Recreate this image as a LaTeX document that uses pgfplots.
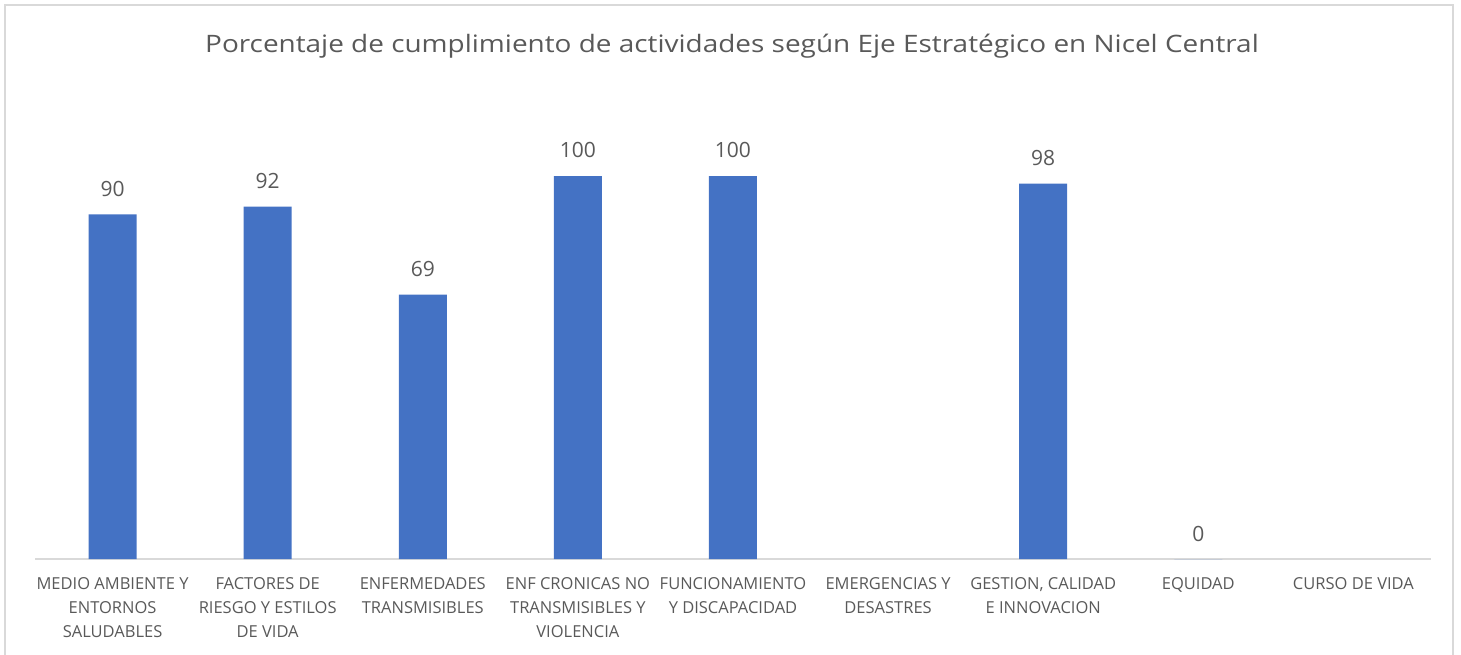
\documentclass[border=0pt]{standalone}
\usepackage{pgfplots}
\pgfplotsset{compat=1.18}
\usepackage{fontspec}
\setmainfont{Open Sans}
\definecolor{barblue}{HTML}{4472C4}
\definecolor{txt}{HTML}{595959}
\definecolor{gridc}{HTML}{D9D9D9}
\begin{document}
\begin{tikzpicture}[x=1pt,y=1pt]
\path[use as bounding box] (0,0) rectangle (1461,654);
\draw[gridc, line width=1.5pt] (5,-20) -- (5,649) -- (1453,649) -- (1453,-20);
\node[anchor=base, text=txt, font=\fontsize{24}{28}\selectfont, inner sep=0pt] at (732,601) {\scalebox{1.164}[1]{Porcentaje de cumplimiento de actividades según Eje Estratégico en Nicel Central}};
\begin{axis}[
  at={(35pt,95pt)}, anchor=south west,
  scale only axis, width=1396pt, height=459.6pt,
  xmin=-0.5, xmax=8.5, ymin=0, ymax=120,
  axis x line=bottom, axis y line=none,
  axis line style={-, draw=gridc, line width=1.5pt},
  ytick=\empty,
  xtick={0,...,8},
  xticklabels={{MEDIO AMBIENTE Y\\ENTORNOS\\SALUDABLES},{FACTORES DE\\RIESGO Y ESTILOS\\DE VIDA},{ENFERMEDADES\\TRANSMISIBLES},{ENF CRONICAS NO\\TRANSMISIBLES Y\\VIOLENCIA},{FUNCIONAMIENTO\\Y DISCAPACIDAD},{EMERGENCIAS Y\\DESASTRES},{GESTION, CALIDAD\\E INNOVACION},{EQUIDAD},{CURSO DE VIDA}},
  major tick length=0pt,
  xticklabel style={align=center, text=txt, font=\fontsize{16.5}{24}\selectfont, anchor=north, yshift=-15pt},
  ybar, bar width=48pt, bar shift=0pt,
  /pgf/number format/assume math mode=true,
  nodes near coords,
  nodes near coords style={anchor=base, yshift=18pt, text=txt, font=\fontsize{21}{25}\selectfont, inner sep=0pt},
  clip=false
]
\addplot[fill=barblue, draw=none] coordinates {(0,90) (1,92) (2,69) (3,100) (4,100) (6,98) (7,0)};
\end{axis}
\end{tikzpicture}
\end{document}
